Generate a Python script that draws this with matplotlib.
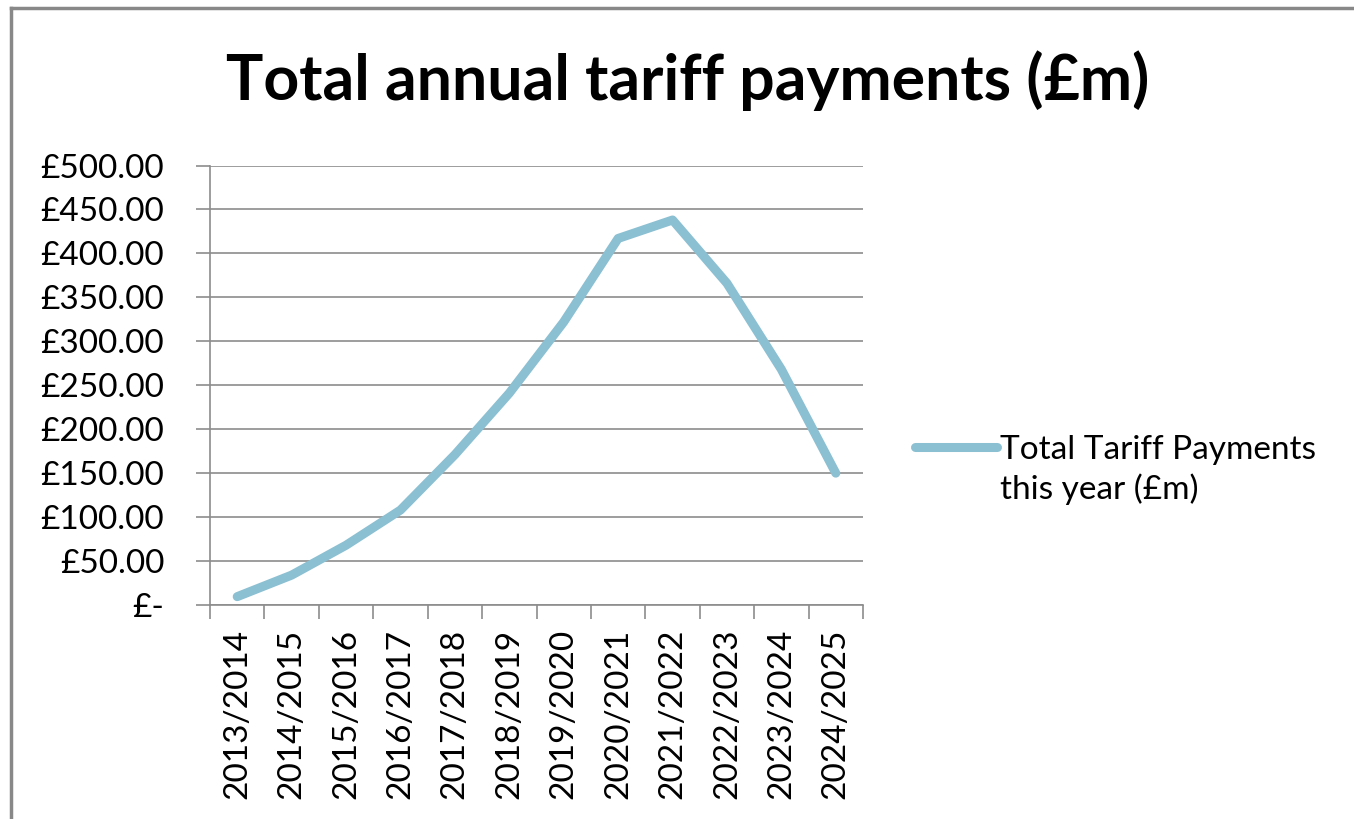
import matplotlib

matplotlib.use("Agg")

import matplotlib.pyplot as plt
from matplotlib.lines import Line2D
from matplotlib.ticker import FuncFormatter, FixedLocator, NullFormatter


YEARS = [
    "2013/2014", "2014/2015", "2015/2016", "2016/2017", "2017/2018", "2018/2019",
    "2019/2020", "2020/2021", "2021/2022", "2022/2023", "2023/2024", "2024/2025",
]
PAYMENTS = [9.5, 34, 68, 108, 171, 241, 322, 417, 438, 366, 268, 150]
Y_TICKS = [0, 50, 100, 150, 200, 250, 300, 350, 400, 450, 500]
SERIES_NAME = ["Total Tariff Payments", "this year (£m)"]

LINE_COLOR = "#8bbfd2"
GRID_COLOR = "#8c8c8c"
FONT = ["Lato", "DejaVu Sans"]
W, H = 1354, 819


def money(value, _pos):
    if value == 0:
        return "£-"
    return f"£{value:.2f}"


def main():
    plt.rcParams["font.family"] = FONT

    fig = plt.figure(figsize=(W / 100, H / 100), dpi=100)

    # outer chart frame: only top and left edges show in the crop
    fig.add_artist(Line2D([11 / W, 11 / W], [0, 1 - 8 / H], transform=fig.transFigure,
                          color="#888888", linewidth=2.5))
    fig.add_artist(Line2D([11 / W, 1], [1 - 8 / H, 1 - 8 / H], transform=fig.transFigure,
                          color="#888888", linewidth=2.5))

    ax = fig.add_axes([210 / W, 1 - 605 / H, 653 / W, 439.5 / H])
    x = range(len(YEARS))
    line, = ax.plot(x, PAYMENTS, color=LINE_COLOR, linewidth=6.5, solid_capstyle="round",
                    solid_joinstyle="round", label=SERIES_NAME[0])

    ax.set_xlim(-0.5, len(YEARS) - 0.5)
    ax.set_ylim(0, 500)
    ax.set_yticks(Y_TICKS)
    ax.yaxis.set_major_formatter(FuncFormatter(money))
    ax.grid(axis="y", color=GRID_COLOR, linewidth=1.2)
    ax.set_axisbelow(True)

    ax.set_xticks(list(x))
    ax.set_xticklabels(YEARS, rotation=90)
    ax.xaxis.set_minor_locator(FixedLocator([i - 0.5 for i in range(len(YEARS) + 1)]))
    ax.xaxis.set_minor_formatter(NullFormatter())
    ax.tick_params(axis="x", which="major", length=0, pad=17, labelsize=24)
    ax.tick_params(axis="x", which="minor", length=10, color=GRID_COLOR, width=1.2)
    ax.tick_params(axis="y", length=10, color=GRID_COLOR, width=1.2, labelsize=24, pad=23)

    for side in ["top", "right"]:
        ax.spines[side].set_visible(False)
    for side in ["left", "bottom"]:
        ax.spines[side].set_color(GRID_COLOR)
        ax.spines[side].set_linewidth(1.2)

    fig.text(0.508, 1 - 100 / H, "Total annual tariff payments (£m)", ha="center",
             va="baseline", fontsize=45, fontweight="bold")

    legend = fig.legend(handles=[line], loc="center left", bbox_to_anchor=(915 / W, 1 - 450 / H),
                        frameon=False, fontsize=24, handlelength=2.45, handletextpad=0.1,
                        borderpad=0, borderaxespad=0)

    # second line of the legend label, set under the first
    fig.canvas.draw()
    first = legend.get_texts()[0].get_window_extent()
    fig.text(first.x0 / W, (first.y0 - 45) / H + 0.006, SERIES_NAME[1], fontsize=24,
             ha="left", va="bottom")

    fig.savefig("out.png", dpi=100)
    plt.close(fig)


if __name__ == "__main__":
    main()
